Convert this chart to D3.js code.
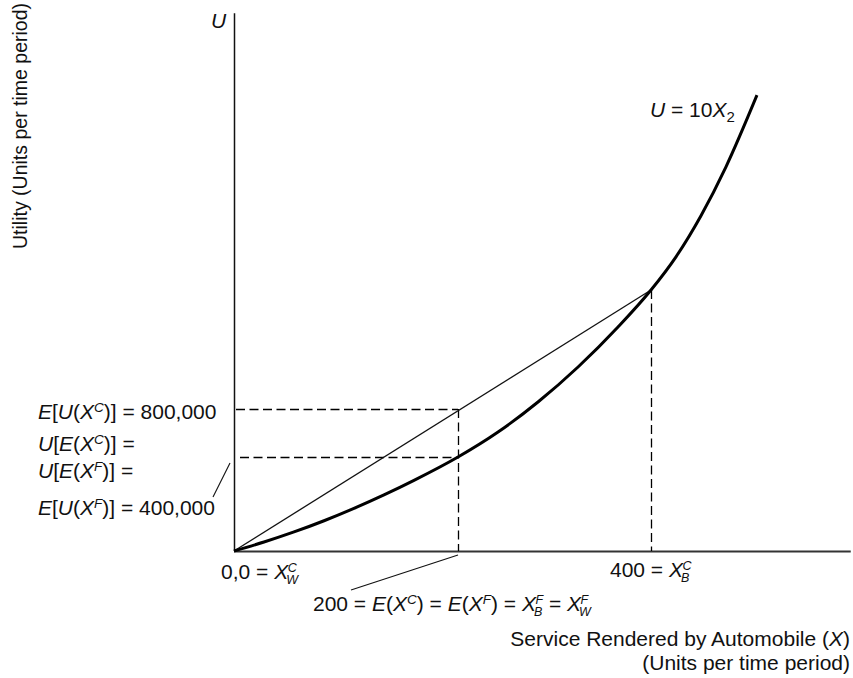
<!DOCTYPE html>
<html><head><meta charset="utf-8">
<script src="https://cdn.jsdelivr.net/npm/d3@7"></script>
<style>
body{margin:0;background:#fff;}
svg text{font-family:"Liberation Sans",Arial,Helvetica,sans-serif;fill:#111;}
</style></head>
<body><svg id="c" width="853" height="678"></svg>
<script>
// ---- data ----
const xKeys = [0, 200, 400];               // labelled X values
const uKeys = [0, 400000, 800000, 1600000]; // labelled U values
const xMax = 607, uMax = 3460000;           // axis extents
// utility curve U = 10X^2 as drawn
const curveX = [0, 26.8, 53.6, 80.4, 107.1, 133.9, 160.7, 200, 241.5, 282.9, 324.4, 365.8, 400, 425.9, 451.8, 477.7, 509.8];
const curveU = [0, 38300, 81100, 128800, 181300, 238600, 300600, 400000, 608300, 847100, 1082400, 1351300, 1600000, 1823200, 2099500, 2428300, 2909700];
// chord between the two lottery outcomes
const chordX = [0, 400];
const chordU = [0, 1600000];

const svg = d3.select("#c");
// schematic (piecewise) scales as drawn in the figure
const x = d3.scaleLinear().domain(xKeys).range([234, 458, 651]);
const y = d3.scaleLinear().domain(uKeys).range([551, 457, 409, 290]);

const FS = 21, SS = 13.5, ST = 12.5;

// axes
svg.append("line").attr("x1", x(0) + 0.5).attr("x2", x(0) + 0.5).attr("y1", y(0)).attr("y2", y(uMax))
  .attr("stroke", "#111").attr("stroke-width", 1.5);
svg.append("line").attr("x1", x(0)).attr("x2", x(xMax)).attr("y1", y(0) + 0.5).attr("y2", y(0) + 0.5)
  .attr("stroke", "#333").attr("stroke-width", 1.8);

// dashed guides
const dash = "9,4.5";
function dline(x1, y1, x2, y2) {
  svg.append("line").attr("x1", x1).attr("y1", y1).attr("x2", x2).attr("y2", y2)
    .attr("stroke", "#000").attr("stroke-width", 1.3).attr("stroke-dasharray", dash);
}
dline(x(0) + 2, y(800000) + 0.5, x(200), y(800000) + 0.5);
dline(x(0) + 6, y(400000) + 0.5, x(200), y(400000) + 0.5);
dline(x(200) + 0.5, y(800000), x(200) + 0.5, y(0));
dline(x(400) + 0.5, y(1600000), x(400) + 0.5, y(0));

// chord
svg.append("line").attr("x1", x(chordX[0])).attr("y1", y(chordU[0]))
  .attr("x2", x(chordX[1])).attr("y2", y(chordU[1]))
  .attr("stroke", "#111").attr("stroke-width", 1.3);

// curve
const pts = curveX.map((v, i) => [v, curveU[i]]);
svg.append("path").datum(pts)
  .attr("d", d3.line().x(d => x(d[0])).y(d => y(d[1])).curve(d3.curveMonotoneX))
  .attr("fill", "none").attr("stroke", "#000").attr("stroke-width", 3);

// rich text helper: segments
function rich(px, py, segs, anchor) {
  const t = svg.append("text").attr("x", px).attr("y", py).attr("font-size", FS);
  let cur = 0, pend = 0;
  for (let i = 0; i < segs.length; i++) {
    const s = segs[i];
    if (s.stack) {
      const a = t.append("tspan").text(s.sup).attr("font-size", ST).attr("font-style", "italic")
        .attr("dy", -7 - cur).attr("dx", pend - 0.5);
      const la = a.node().getComputedTextLength();
      const b = t.append("tspan").text(s.sub).attr("font-size", ST).attr("font-style", "italic")
        .attr("dx", -la - 1.5).attr("dy", 12);
      const lb = b.node().getComputedTextLength();
      cur = 5;
      pend = Math.max(0, la + 1.5 - lb);
      continue;
    }
    const sp = t.append("tspan").text(s.t);
    let off = 0;
    if (s.sup) { off = -7; sp.attr("font-size", SS); }
    if (s.sub) { off = 5; sp.attr("font-size", s.size || SS); }
    sp.attr("dy", off - cur); cur = off;
    if (s.i) sp.attr("font-style", "italic");
    if (pend) { sp.attr("dx", pend); pend = 0; }
  }
  if (anchor) t.attr("text-anchor", anchor);
  return t;
}
const I = t => ({ t, i: true }), N = t => ({ t }), SUP = t => ({ t, sup: true, i: true });

// axis letter U
svg.append("text").attr("x", 211).attr("y", 28).attr("font-size", FS).attr("font-style", "italic").text("U");
// y title
svg.append("text").attr("transform", "translate(27,126) rotate(-90)").attr("text-anchor", "middle")
  .attr("font-size", 19.5).text("Utility (Units per time period)");
// x title
svg.append("text").attr("x", 850).attr("y", 646).attr("text-anchor", "end").attr("font-size", FS)
  .html('Service Rendered by Automobile (<tspan font-style="italic">X</tspan>)');
svg.append("text").attr("x", 850).attr("y", 670).attr("text-anchor", "end").attr("font-size", FS)
  .text("(Units per time period)");

// curve label
rich(650, 117, [I("U"), N(" = 10"), I("X"), { t: "2", sub: true, size: 15 }]);

// left labels
rich(38, y(800000) + 10, [I("E"), N("["), I("U"), N("("), I("X"), SUP("C"), N(")] = 800,000")]);
rich(38, 451, [I("U"), N("["), I("E"), N("("), I("X"), SUP("C"), N(")] =")]);
rich(38, 478, [I("U"), N("["), I("E"), N("("), I("X"), SUP("F"), N(")] =")]);
rich(38, 515, [I("E"), N("["), I("U"), N("("), I("X"), SUP("F"), N(")] = 400,000")]);
svg.append("line").attr("x1", 213).attr("y1", 497).attr("x2", 230).attr("y2", 463)
  .attr("stroke", "#111").attr("stroke-width", 1.1);

// bottom labels
rich(221, 579, [N("0,0 = "), I("X"), { stack: true, sup: "C", sub: "W" }]);
rich(610, 577, [N("400 = "), I("X"), { stack: true, sup: "C", sub: "B" }]);
rich(313, 611, [N("200 = "), I("E"), N("("), I("X"), SUP("C"), N(") = "), I("E"), N("("), I("X"), SUP("F"), N(") = "),
  I("X"), { stack: true, sup: "F", sub: "B" }, N(" = "), I("X"), { stack: true, sup: "F", sub: "W" }]);
svg.append("line").attr("x1", 351).attr("y1", 590).attr("x2", x(200)).attr("y2", 555)
  .attr("stroke", "#111").attr("stroke-width", 1.1);
</script></body></html>
